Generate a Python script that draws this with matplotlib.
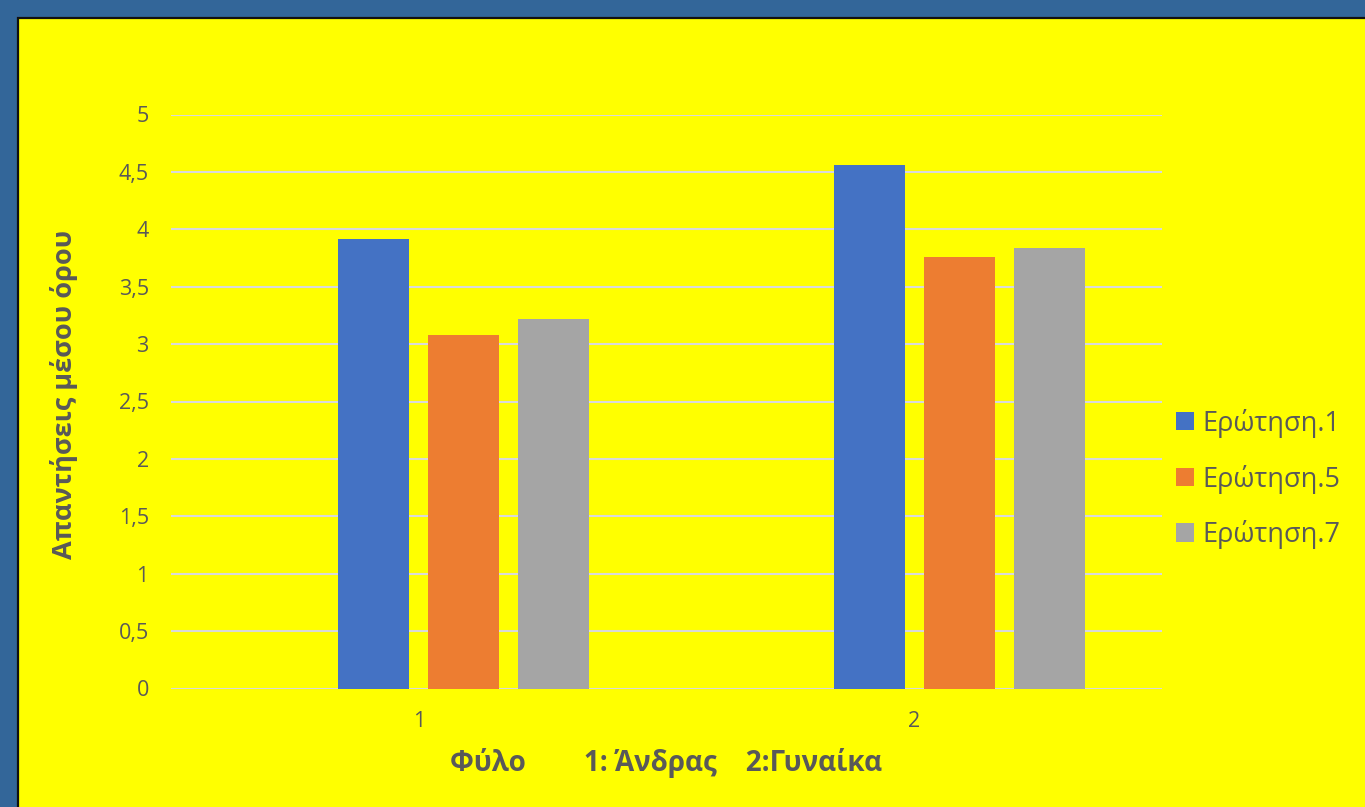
import numpy as np
import matplotlib.pyplot as plt
from matplotlib.patches import Rectangle

plt.rcParams['font.family'] = ['Open Sans', 'DejaVu Sans']

categories = ['1', '2']
series_names = ['Ερώτηση.1', 'Ερώτηση.5', 'Ερώτηση.7']
values = {
    'Ερώτηση.1': [3.915, 4.56],
    'Ερώτηση.5': [3.08, 3.755],
    'Ερώτηση.7': [3.215, 3.84],
}
colors = ['#4472C4', '#ED7D31', '#A5A5A5']
yticks = [0, 0.5, 1, 1.5, 2, 2.5, 3, 3.5, 4, 4.5, 5]
ytick_labels = ['0', '0,5', '1', '1,5', '2', '2,5', '3', '3,5', '4', '4,5', '5']

W, H = 1365, 807
fig = plt.figure(figsize=(W / 100, H / 100), dpi=100)
fig.patch.set_facecolor('#336699')

# yellow chart area with thin dark frame
bg = fig.add_axes([0, 0, 1, 1], zorder=-10)
bg.set_axis_off()
bg.set_xlim(0, W)
bg.set_ylim(H, 0)
bg.add_patch(Rectangle((18, 18), W, H, facecolor='#FFFF00', edgecolor='#111111', linewidth=1.6))

ax = fig.add_axes([171 / W, (H - 688.5) / H, (1162 - 171) / W, (688.5 - 114.5) / H])
ax.set_facecolor('none')

# Excel layout: 4 series slots (first one empty), bar 71px, gap 19px in a 495px category
bw = 71 / 495
step = (71 + 19) / 495
x = np.arange(len(categories))
for i, name in enumerate(series_names):
    off = (i + 1 - 1.5) * step
    ax.bar(x + off, values[name], width=bw, color=colors[i], label=name, zorder=3)

ax.set_xlim(-0.5, 1.5)
ax.set_ylim(0, 5)
ax.set_yticks(yticks)
ax.set_yticklabels(ytick_labels)
ax.set_xticks(x)
ax.set_xticklabels(categories)
ax.grid(axis='y', color='#D9D9D9', linewidth=1.5, zorder=0)
ax.set_axisbelow(True)
for s in ax.spines.values():
    s.set_visible(False)
ax.tick_params(axis='both', length=0, colors='#595959', labelsize=15.5)
ax.tick_params(axis='y', pad=16)
ax.tick_params(axis='x', pad=16)

ax.set_ylabel('Απαντήσεις μέσου όρου', fontsize=19.5, fontweight='bold', color='#595959')
ax.yaxis.set_label_coords((78 - 171) / 991, (688.5 - 394) / 574)
ax.set_xlabel('Φύλο        1: Άνδρας    2:Γυναίκα', fontsize=20, fontweight='bold',
              color='#595959')
ax.xaxis.set_label_coords(0.5, (688.5 - 748) / 574)

leg = ax.legend(loc='center left', bbox_to_anchor=(0.995, (688.5 - 479) / 574), frameon=False,
                fontsize=19.5, labelcolor='#595959', handlelength=0.65, handleheight=0.65,
                handletextpad=0.32, labelspacing=0.98, borderaxespad=0.3)

fig.savefig('out.png', dpi=100, facecolor=fig.get_facecolor())
